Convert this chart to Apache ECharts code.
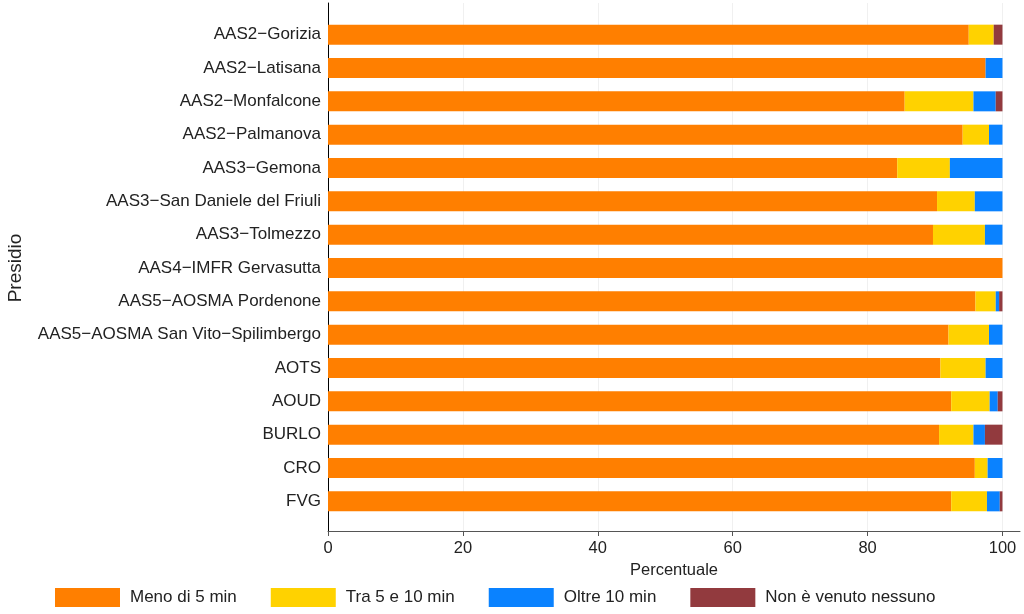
<!DOCTYPE html>
<html>
<head>
<meta charset="utf-8">
<script src="https://cdn.jsdelivr.net/npm/echarts@6/dist/echarts.min.js"></script>
<style>html,body{margin:0;padding:0;background:#fff}#c{width:1024px;height:614px}</style>
</head>
<body>
<div id="c"></div>
<script>
const categories = ["AAS2−Gorizia","AAS2−Latisana","AAS2−Monfalcone","AAS2−Palmanova","AAS3−Gemona","AAS3−San Daniele del Friuli","AAS3−Tolmezzo","AAS4−IMFR Gervasutta","AAS5−AOSMA Pordenone","AAS5−AOSMA San Vito−Spilimbergo","AOTS","AOUD","BURLO","CRO","FVG"];
const meno5 =   [95.0, 97.5, 85.5, 94.1, 84.4, 90.3, 89.7, 100, 96.0, 92.0, 90.8, 92.4, 90.6, 95.9, 92.4];
const tra5e10 = [3.7,  0,    10.2, 3.9,  7.8,  5.6,  7.7,  0,   3.0,  6.0,  6.7,  5.7,  5.1,  1.9,  5.3];
const oltre10 = [0,    2.5,  3.3,  2.0,  7.8,  4.1,  2.6,  0,   0.5,  2.0,  2.5,  1.2,  1.7,  2.2,  1.9];
const nessuno = [1.3,  0,    1.0,  0,    0,    0,    0,    0,   0.5,  0,    0,    0.7,  2.6,  0,    0.4];
const xTicks = [0, 20, 40, 60, 80, 100];
const seriesNames = ["Meno di 5 min","Tra 5 e 10 min","Oltre 10 min","Non è venuto nessuno"];
const colors = ["#FF7F00","#FFD200","#0A82FF","#923A3E"];

const font = "'Liberation Sans', Arial, sans-serif";
const xMax = 102.6;
const chart = echarts.init(document.getElementById('c'), null, {renderer:'canvas'});
const data = [meno5, tra5e10, oltre10, nessuno];
chart.setOption({
  animation: false,
  color: colors,
  textStyle: {fontFamily: font},
  grid: [
    {left: 328, right: 4, top: 3, bottom: 83, containLabel: false, outerBoundsMode: 'none'},
    {left: 328, right: 4, top: 18, bottom: 96, containLabel: false, outerBoundsMode: 'none'}
  ],
  xAxis: [
    {type:'value', gridIndex:0, min:0, max:xMax,
     axisLine:{show:true, lineStyle:{color:'#555', width:1}},
     axisTick:{show:true, length:5, customValues:xTicks, lineStyle:{color:'#555'}},
     axisLabel:{customValues:xTicks, fontSize:16.5, color:'#222', fontFamily:font, margin:9},
     splitLine:{show:true, lineStyle:{color:'#f0f0f0', width:1}},
     name:'Percentuale', nameLocation:'middle', nameGap:30,
     nameTextStyle:{fontSize:16.5, color:'#222', fontFamily:font}},
    {type:'value', gridIndex:1, min:0, max:xMax, show:false}
  ],
  yAxis: [
    {type:'value', gridIndex:0, min:0, max:1,
     axisLine:{show:true, lineStyle:{color:'#000', width:1}},
     axisTick:{show:false}, axisLabel:{show:false}, splitLine:{show:false}},
    {type:'category', gridIndex:1, data:categories, inverse:true,
     axisLine:{show:false}, axisTick:{show:false},
     axisLabel:{fontSize:17, color:'#222', fontFamily:font, margin:7},
     name:'Presidio', nameLocation:'middle', nameGap:303, nameRotate:90,
     nameTextStyle:{fontSize:19, color:'#222', fontFamily:font}}
  ],
  legend: {
    bottom: 7, left: 55, padding: 0, itemWidth: 65, itemHeight: 19, itemGap: 34,
    selectedMode: false, icon: 'rect',
    textStyle: {fontSize:17, color:'#222', fontFamily:font, padding:[0,0,0,5]},
    data: seriesNames
  },
  series: seriesNames.map((n, i) => ({
    name: n, type: 'bar', stack: 'tot', xAxisIndex: 1, yAxisIndex: 1,
    barWidth: 20, data: data[i], itemStyle: {color: colors[i]}
  }))
});
</script>
</body>
</html>
